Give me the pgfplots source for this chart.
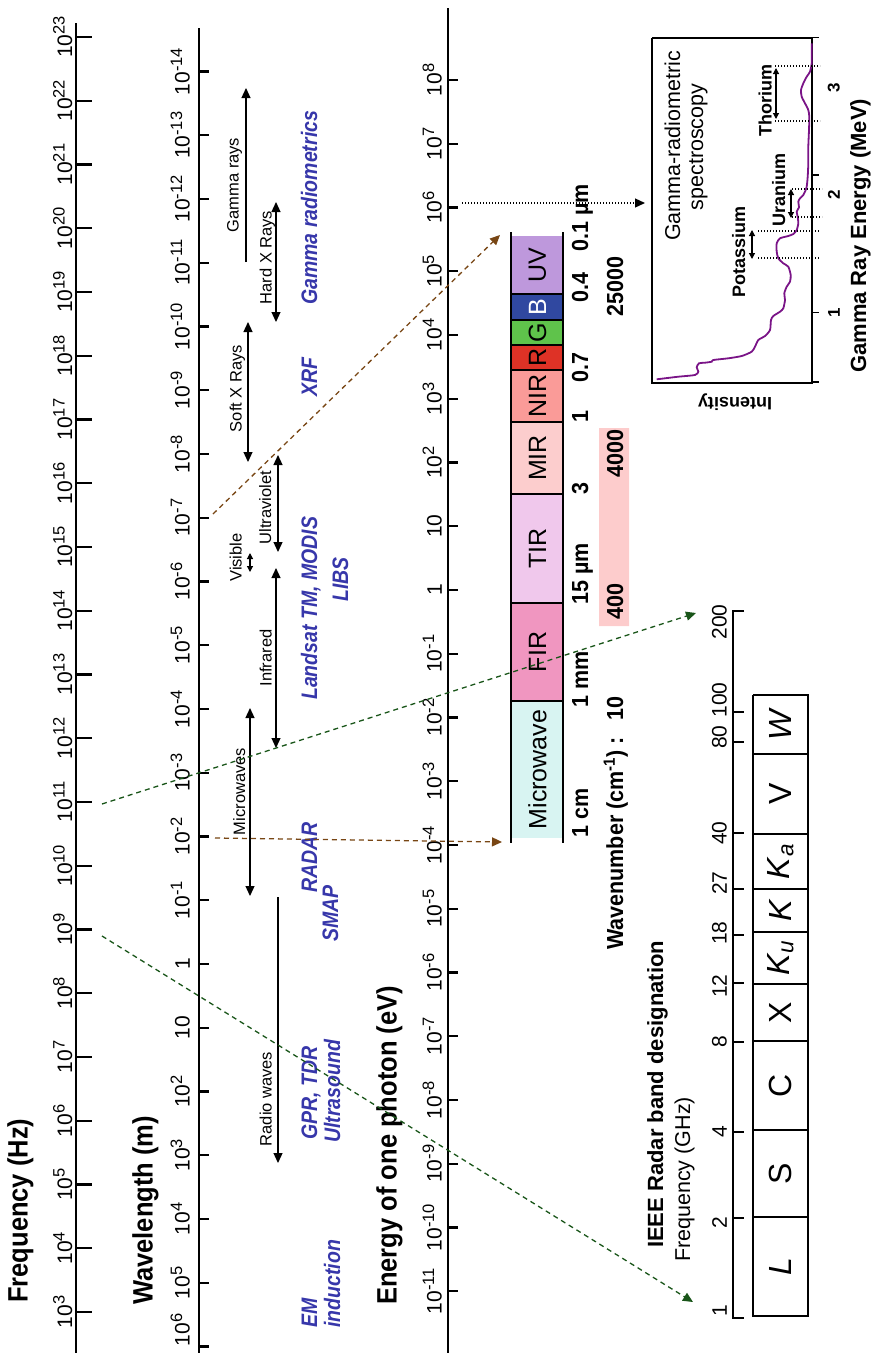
\documentclass[border=0pt]{standalone}
\usepackage{fontspec}
\setmainfont{Liberation Sans}
\usepackage{pgfplots}
\pgfplotsset{compat=1.18}
\usetikzlibrary{arrows.meta}
\newcommand{\fz}[1]{\fontsize{#1}{#1}\selectfont}
\newcommand{\pw}[1]{10\raisebox{7.5pt}{\fz{16.5}#1}}
\definecolor{blueLab}{RGB}{55,55,170}
\definecolor{brownD}{RGB}{120,70,20}
\definecolor{greenD}{RGB}{25,85,25}
\definecolor{cUV}{RGB}{190,152,220}
\definecolor{cB}{RGB}{48,72,160}
\definecolor{cG}{RGB}{95,195,75}
\definecolor{cR}{RGB}{222,50,38}
\definecolor{cNIR}{RGB}{250,155,152}
\definecolor{cMIR}{RGB}{252,205,205}
\definecolor{cTIR}{RGB}{240,200,236}
\definecolor{cFIR}{RGB}{240,150,192}
\definecolor{cMW}{RGB}{216,244,242}
\definecolor{pinkhl}{RGB}{253,204,204}
\definecolor{specP}{RGB}{122,20,135}
\tikzset{
  axl/.style={black, line width=2.2pt},
  tk/.style={black, line width=2.2pt},
  bl/.style={black, line width=2pt},
  tl/.style={rotate=90, anchor=south, inner sep=0pt, font=\fz{21}},
  arr/.style={black, line width=1.2pt, >={Triangle[length=10pt,width=9pt]}},
  arrs/.style={black, line width=1.2pt, >={Triangle[length=6pt,width=6pt]}},
  dl/.style={line width=1.3pt, dash pattern=on 5pt off 4pt, >={Triangle[length=10pt,width=9pt]}},
  dotl/.style={black, line width=1.3pt, dash pattern=on 1.3pt off 1.7pt},
  rlab/.style={rotate=90, anchor=base, inner sep=0pt, font=\fz{16.5}},
  blab/.style={rotate=90, yscale=1.15, anchor=base west, inner sep=0pt, text=blueLab, font=\fz{19.5}\bfseries\itshape},
  band/.style={rotate=90, anchor=center, inner sep=0pt, font=\fz{25}},
  wl/.style={rotate=90, yscale=1.08, anchor=base west, inner sep=0pt, font=\fz{21.5}\bfseries},
  rad/.style={rotate=90, anchor=center, inner sep=0pt, font=\fz{32}},
  ttl/.style={rotate=90, yscale=1.1, anchor=base west, inner sep=0pt, font=\fz{25.5}\bfseries},
}
\begin{document}
\begin{tikzpicture}
\begin{axis}[name=ax, at={(0,0)}, anchor=south west, scale only axis,
  width=872pt, height=1353pt, xmin=0, xmax=872, ymin=0, ymax=1353,
  y dir=reverse, hide axis, clip=false, unbounded coords=jump]

% pink highlight
\addplot[fill=pinkhl, draw=none] coordinates {(599,428)(629,428)(629,626)(599,626)(599,428)};

% ---------- main axes ----------
\addplot[axl] coordinates {(76,23)(76,1353)};
\addplot[axl] coordinates {(199,28)(199,1353)};
\addplot[axl] coordinates {(448,8)(448,1353)};

% frequency ticks and labels
\pgfplotsinvokeforeach{3,...,23}{
  \addplot[tk] table[row sep=\\, y expr={1312-(#1-3)*63.75}] {x\\ 76\\ 92\\};
  \node[tl] at (axis cs:72.5,{1312-(#1-3)*63.75}) {\pw{#1}};
}
% wavelength ticks
\pgfplotsinvokeforeach{-14,...,6}{
  \addplot[tk] table[row sep=\\, y expr={964+63.75*(#1)}] {x\\ 199\\ 209\\};
}
\pgfplotsinvokeforeach{-14,...,-1}{
  \node[tl] at (axis cs:190,{964+63.75*(#1)}) {\pw{#1}};
}
\pgfplotsinvokeforeach{2,...,5}{
  \node[tl] at (axis cs:190,{964+63.75*(#1)}) {\pw{#1}};
}
\node[tl] at (axis cs:190,1330) {\pw{6}};
\node[tl] at (axis cs:190,964) {1};
\node[tl] at (axis cs:190,1027.75) {10};
% energy ticks
\pgfplotsinvokeforeach{-11,...,8}{
  \addplot[tk] table[row sep=\\, y expr={590-63.75*(#1)}] {x\\ 448\\ 458\\};
}
\pgfplotsinvokeforeach{-11,...,-1}{
  \node[tl] at (axis cs:442,{590-63.75*(#1)}) {\pw{#1}};
}
\pgfplotsinvokeforeach{2,...,8}{
  \node[tl] at (axis cs:442,{590-63.75*(#1)}) {\pw{#1}};
}
\node[tl] at (axis cs:442,590) {1};
\node[tl] at (axis cs:442,526.25) {10};

% titles
\node[ttl] at (axis cs:27.5,1303) {Frequency (Hz)};
\node[ttl] at (axis cs:152.5,1305) {Wavelength (m)};
\node[ttl] at (axis cs:396.5,1305) {Energy of one photon (eV)};

% ---------- spectrum region arrows ----------
\addplot[arr, ->] coordinates {(246,262)(246,88)};
\addplot[arr, <->] coordinates {(276,202)(276,322)};
\addplot[arr, <->] coordinates {(248,322)(248,462)};
\addplot[arr, <->] coordinates {(278,455)(278,552)};
\addplot[arrs, <->] coordinates {(250,553)(250,572)};
\addplot[arr, <->] coordinates {(276,568)(276,748)};
\addplot[arr, <->] coordinates {(250,708)(250,896)};
\addplot[arr, ->] coordinates {(278,897)(278,1163)};

\node[rlab] at (axis cs:238.5,185) {Gamma rays};
\node[rlab] at (axis cs:271.5,257.5) {Hard X Rays};
\node[rlab] at (axis cs:241.5,388.5) {Soft X Rays};
\node[rlab] at (axis cs:271,507.5) {Ultraviolet};
\node[rlab] at (axis cs:241.5,557.5) {Visible};
\node[rlab] at (axis cs:271.5,658) {Infrared};
\node[rlab] at (axis cs:245,791.5) {Microwaves};
\node[rlab] at (axis cs:271.5,1099) {Radio waves};

% blue labels
\node[blab] at (axis cs:317,305) {Gamma radiometrics};
\node[blab] at (axis cs:317,397) {XRF};
\node[blab] at (axis cs:317,700) {Landsat TM, MODIS};
\node[blab] at (axis cs:348,602) {LIBS};
\node[blab] at (axis cs:317,893) {RADAR};
\node[blab] at (axis cs:338,942) {SMAP};
\node[blab] at (axis cs:317,1140) {GPR, TDR};
\node[blab] at (axis cs:340,1143) {Ultrasound};
\node[blab] at (axis cs:317,1328) {EM};
\node[blab] at (axis cs:340,1328) {induction};

% ---------- colour band ----------
\addplot[fill=cUV,draw=none] coordinates {(511,236)(563,236)(563,294)(511,294)};
\addplot[fill=cB,draw=none] coordinates {(511,294)(563,294)(563,320)(511,320)};
\addplot[fill=cG,draw=none] coordinates {(511,320)(563,320)(563,345)(511,345)};
\addplot[fill=cR,draw=none] coordinates {(511,345)(563,345)(563,370)(511,370)};
\addplot[fill=cNIR,draw=none] coordinates {(511,370)(563,370)(563,422)(511,422)};
\addplot[fill=cMIR,draw=none] coordinates {(511,422)(563,422)(563,494)(511,494)};
\addplot[fill=cTIR,draw=none] coordinates {(511,494)(563,494)(563,603)(511,603)};
\addplot[fill=cFIR,draw=none] coordinates {(511,603)(563,603)(563,701)(511,701)};
\addplot[fill=cMW,draw=none] coordinates {(511,701)(563,701)(563,838)(511,838)};
\addplot[bl] coordinates {(511,294)(563,294)(nan,nan)(511,320)(563,320)(nan,nan)(511,345)(563,345)(nan,nan)(511,370)(563,370)(nan,nan)(511,422)(563,422)(nan,nan)(511,494)(563,494)(nan,nan)(511,603)(563,603)(nan,nan)(511,701)(563,701)};
\addplot[bl] coordinates {(511,232)(511,843)(nan,nan)(563,232)(563,843)};

\node[band] at (axis cs:537.5,265) {UV};
\node[band, text=white] at (axis cs:537.5,307) {B};
\node[band] at (axis cs:537.5,332.5) {G};
\node[band] at (axis cs:537.5,357.5) {R};
\node[band] at (axis cs:537.5,396) {NIR};
\node[band] at (axis cs:537.5,458) {MIR};
\node[band] at (axis cs:537.5,548.5) {TIR};
\node[band] at (axis cs:537.5,652) {FIR};
\node[band] at (axis cs:537.5,769.5) {Microwave};

\node[wl] at (axis cs:588,252) {0.1 µm};
\node[wl] at (axis cs:588,303) {0.4};
\node[wl] at (axis cs:588,383) {0.7};
\node[wl] at (axis cs:588,423) {1};
\node[wl] at (axis cs:588,495) {3};
\node[wl] at (axis cs:588,605) {15 µm};
\node[wl] at (axis cs:588,708) {1 mm};
\node[wl] at (axis cs:588,838) {1 cm};

\node[wl] at (axis cs:623,317) {25000};
\node[wl] at (axis cs:623,478) {4000};
\node[wl] at (axis cs:623,620) {400};
\node[wl] at (axis cs:623,950) {Wavenumber (cm\textsuperscript{-1}) :\hspace{17pt}10};

% ---------- dashed connectors ----------
\addplot[dl, brownD, ->] coordinates {(213,514)(500,235)};
\addplot[dl, brownD, ->] coordinates {(215,838)(502,842)};
\addplot[dl, greenD, ->] coordinates {(102,804)(696,613)};
\addplot[dl, greenD, ->] coordinates {(102,936)(693,1302)};
\addplot[dotl, >={Triangle[length=10pt,width=9pt]}, ->] coordinates {(462,203)(645,203)};

% ---------- gamma inset ----------
\addplot[black, line width=1.5pt] coordinates {(652,38)(812,38)(812,383)(652,383)(652,38)};
\addplot[black, line width=1.5pt] coordinates {(812,37.5)(819,37.5)(nan,nan)(812,175)(819,175)(nan,nan)(812,312.7)(819,312.7)(nan,nan)(812,382)(819,382)};
\addplot[specP, line width=1.8pt, smooth, tension=0.4] coordinates {
(656.7,379.3) (678.3,376.7) (695,375) (698.3,371.7) (696.7,367.3) (699,363.3) (705,362.7) (711.7,361.7) (713.3,360) (728.3,358.3) (741.7,356) (751.7,351.7) (755,346.7) (758.3,340) (765,336) (770,330) (771,320) (773.3,316) (780,311.7) (783.3,308.3) (785,300) (784.3,293.3) (786.7,286.7) (790,281.7) (790.7,275) (788.3,266.7) (783.3,263.3) (778.3,258.3) (776.7,251.7) (776.7,243.3) (780,238.3) (788.3,236) (793.3,234) (796.7,230) (798.3,223.3) (797.7,216.7) (796.7,211.7) (799,207.3) (798.3,201.7) (800,198.3) (803.3,195) (805,191.7) (806.7,186.7) (807.7,176.7) (808.3,163.3) (808.3,146.7) (809,130) (809.3,116.7) (808.3,110) (805,103.3) (801.7,96.7) (801,90) (803.3,83.3) (806.7,76.7) (810,71.7) (811.7,63.3) (811.7,53.3) (811.7,43.3)};
\addplot[dotl] coordinates {(775,66)(820,66)(nan,nan)(775,121)(820,121)(nan,nan)(792,189)(822,189)(nan,nan)(792,217)(822,217)(nan,nan)(758,231)(820,231)(nan,nan)(758,258)(820,258)};
\addplot[arrs, <->] coordinates {(776,68)(776,119)};
\addplot[arrs, <->] coordinates {(791,189)(791,218)};
\addplot[arrs, <->] coordinates {(752,230)(752,259)};

\node[rotate=90, anchor=base, inner sep=0pt, font=\fz{21.5}] at (axis cs:680,146) {Gamma-radiometric};
\node[rotate=90, anchor=base, inner sep=0pt, font=\fz{21.5}] at (axis cs:703,147) {spectroscopy};
\node[rotate=90, anchor=base west, inner sep=0pt, font=\fz{18}\bfseries] at (axis cs:771.5,136.7) {Thorium};
\node[rotate=90, anchor=base west, inner sep=0pt, font=\fz{18}\bfseries] at (axis cs:785,226.7) {Uranium};
\node[rotate=90, anchor=base west, inner sep=0pt, font=\fz{18}\bfseries] at (axis cs:745,298) {Potassium};
\node[rotate=90, anchor=south, inner sep=0pt, font=\fz{17}\bfseries] at (axis cs:840,313) {1};
\node[rotate=90, anchor=south, inner sep=0pt, font=\fz{17}\bfseries] at (axis cs:840,195) {2};
\node[rotate=90, anchor=south, inner sep=0pt, font=\fz{17}\bfseries] at (axis cs:840,88) {3};
\node[rotate=90, anchor=base west, inner sep=0pt, font=\fz{22}\bfseries] at (axis cs:866,373) {Gamma Ray Energy (MeV)};
\node[rotate=180, anchor=center, inner sep=0pt, font=\fz{18}\bfseries] at (axis cs:735,402) {Intensity};

% ---------- radar bands ----------
\addplot[black, line width=2pt] coordinates {(744,611)(733,611)(733,1318)(744,1318)};
\addplot[black, line width=2pt] coordinates {(733,712)(744,712)(nan,nan)(733,742)(744,742)(nan,nan)(733,833)(744,833)(nan,nan)(733,889)(744,889)(nan,nan)(733,935)(744,935)(nan,nan)(733,983)(744,983)(nan,nan)(733,1042)(744,1042)(nan,nan)(733,1132)(744,1132)(nan,nan)(733,1218)(744,1218)};
\node[tl] at (axis cs:727,622) {200};
\node[tl] at (axis cs:727,700) {100};
\node[tl] at (axis cs:727,737) {80};
\node[tl] at (axis cs:727,833) {40};
\node[tl] at (axis cs:727,883) {27};
\node[tl] at (axis cs:727,933) {18};
\node[tl] at (axis cs:727,986) {12};
\node[tl] at (axis cs:727,1042) {8};
\node[tl] at (axis cs:727,1132) {4};
\node[tl] at (axis cs:727,1223) {2};
\node[tl] at (axis cs:727,1311) {1};

\addplot[black, line width=2pt] coordinates {(753,695)(808,695)(808,1316)(753,1316)(753,695)};
\addplot[black, line width=2pt] coordinates {(753,754)(808,754)(nan,nan)(753,834)(808,834)(nan,nan)(753,889)(808,889)(nan,nan)(753,932)(808,932)(nan,nan)(753,984)(808,984)(nan,nan)(753,1041)(808,1041)(nan,nan)(753,1130)(808,1130)(nan,nan)(753,1217)(808,1217)};
\node[rad] at (axis cs:780.5,724.5) {\textit{W}};
\node[rad] at (axis cs:780.5,794) {V};
\node[rad] at (axis cs:780.5,861.5) {\textit{K}\textsubscript{\textit{a}}};
\node[rad] at (axis cs:780.5,910.5) {\textit{K}};
\node[rad] at (axis cs:780.5,958) {\textit{K}\textsubscript{\textit{u}}};
\node[rad] at (axis cs:780.5,1012.5) {X};
\node[rad] at (axis cs:780.5,1085.5) {C};
\node[rad] at (axis cs:780.5,1173.5) {S};
\node[rad] at (axis cs:780.5,1266.5) {\textit{L}};

\node[rotate=90, anchor=base west, inner sep=0pt, font=\fz{22}\bfseries] at (axis cs:663,1248) {IEEE Radar band designation};
\node[rotate=90, anchor=base west, inner sep=0pt, font=\fz{21.5}] at (axis cs:690,1262) {Frequency (GHz)};

\end{axis}
\pgfresetboundingbox
\path (ax.south west) rectangle (ax.north east);
\end{tikzpicture}
\end{document}
